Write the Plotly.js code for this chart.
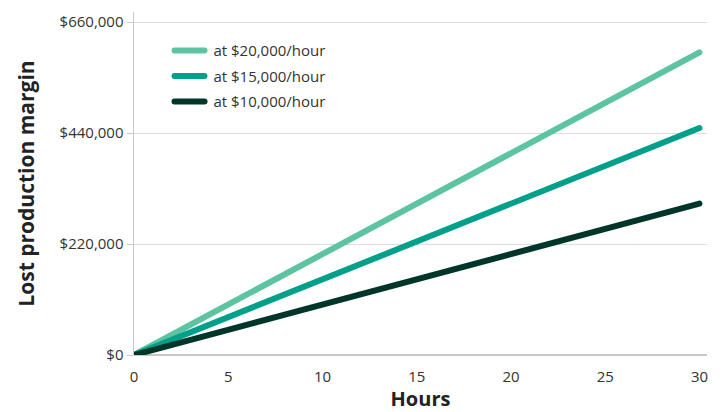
<!DOCTYPE html>
<html>
<head>
<meta charset="utf-8">
<script src="https://cdn.plot.ly/plotly-3.0.1.min.js"></script>
<style>
html,body{margin:0;padding:0;background:#fff;}
#chart{width:722px;height:412px;}
#chart .scatterlayer path.js-line{stroke-linecap:round;}
#chart .legend path.js-line{stroke-linecap:round;}
</style>
</head>
<body>
<div id="chart"></div>
<script>
const hours = [0, 30];
const rate20k = [0, 600000];
const rate15k = [0, 450000];
const rate10k = [0, 300000];
const seriesNames = ["at $20,000/hour", "at $15,000/hour", "at $10,000/hour"];
const seriesColors = ["#5cc4a0", "#00a08a", "#00352a"];
const yTicks = [0, 220000, 440000, 660000];
const yTickLabels = ["$0", "$220,000", "$440,000", "$660,000"];
const xTicks = [0, 5, 10, 15, 20, 25, 30];

const font = "'Open Sans', sans-serif";
const series = [rate20k, rate15k, rate10k];
const traces = series.map((s, i) => ({
  x: hours, y: s, type: "scatter", mode: "lines", name: "\u00a0" + seriesNames[i],
  legendgroup: "g" + i,
  line: {color: seriesColors[i], width: 6}
}));

const layout = {
  width: 722, height: 412,
  margin: {l: 134, r: 15, t: 12, b: 57},
  paper_bgcolor: "#fff", plot_bgcolor: "#fff",
  font: {family: font, color: "#333", size: 15},
  showlegend: true,
  legend: {x: 0.062, y: 0.935, xanchor: "left", yanchor: "top", bgcolor: "rgba(0,0,0,0)",
    font: {size: 15, color: "#333"}, tracegroupgap: 3, itemwidth: 30},
  xaxis: {
    range: [0, 30.4], tickvals: xTicks, showgrid: false, zeroline: false,
    showline: false, ticks: "", tickfont: {size: 15, color: "#333"}, ticklabelstandoff: 11,
    title: {text: "<b>Hours</b>", font: {size: 20, color: "#222"}, standoff: 10}
  },
  yaxis: {
    range: [0, 680000], tickvals: yTicks, ticktext: yTickLabels,
    showgrid: true, gridcolor: "#dcdcdc", gridwidth: 1,
    zeroline: true, zerolinecolor: "#c8c8c8", zerolinewidth: 1.5,
    showline: true, linecolor: "#c8c8c8", linewidth: 1.5,
    ticks: "outside", ticklen: 6, tickcolor: "#c8c8c8",
    tickfont: {size: 15, color: "#333"},
    title: {text: "<b>Lost production margin</b>", font: {size: 21, color: "#222"}, standoff: 19}
  }
};
Plotly.newPlot("chart", traces, layout, {displayModeBar: false, staticPlot: true});
</script>
</body>
</html>
